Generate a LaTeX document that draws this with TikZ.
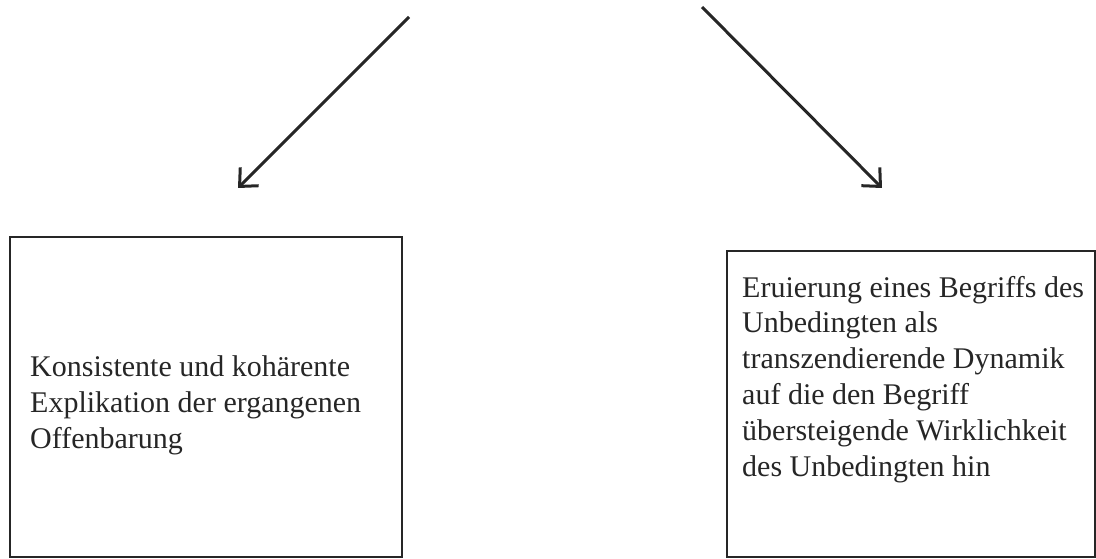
\documentclass[tikz,border=0pt]{standalone}
\usepackage{fontspec}
\setmainfont{Liberation Serif}
\usetikzlibrary{arrows.meta}
\begin{document}
\begin{tikzpicture}[x=1pt,y=-1pt,
  box/.style={draw=black!85, line width=2.4pt, minimum width=#1, inner sep=0pt},
  label/.style={anchor=base west, align=left, inner sep=0pt, font=\fontsize{30}{35.8}\selectfont, text=black!85},
  conn/.style={draw=black!85, line width=3pt, -{Straight Barb[length=14pt,width=26pt,line width=3pt]}}]
\useasboundingbox (0,0) rectangle (1096,559);
\node[box=392pt, minimum height=320pt] (L) at (206,397) {};
\node[box=368pt, minimum height=306pt] (R) at (911,404) {};
\node[label] (Lt) at (30,448) {Konsistente und kohärente\\Explikation der ergangenen\\Offenbarung};
\node[label] (Rt) at (742,476) {Eruierung eines Begriffs des\\Unbedingten als\\transzendierende Dynamik\\auf die den Begriff\\übersteigende Wirklichkeit\\des Unbedingten hin};
\coordinate (a1) at (409,17);
\coordinate (a1e) at (238,188);
\coordinate (a2) at (702,7);
\coordinate (a2e) at (882,188);
\draw[conn] (a1) -- (a1e);
\draw[conn] (a2) -- (a2e);
\end{tikzpicture}
\end{document}
